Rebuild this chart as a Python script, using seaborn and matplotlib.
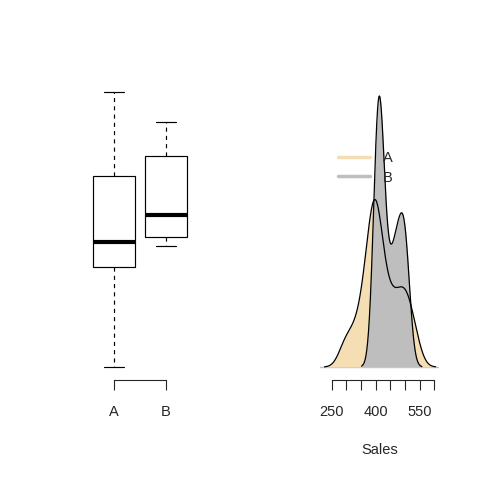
import matplotlib
matplotlib.use("Agg")
import matplotlib.pyplot as plt
from matplotlib.lines import Line2D
import seaborn as sns
import pandas as pd
import numpy as np

GROUPS = ["A", "B"]
SALES_A = [295, 325, 350, 365, 375, 382.3, 389, 395, 399, 402, 404.1,
           410, 419, 433, 447, 461.7, 477, 492, 503, 513, 535]
SALES_B = [400.6, 403, 405, 407, 408, 408.5, 413, 417, 420, 423, 427.7,
           442, 455, 463, 470, 479.2, 486, 493, 499, 504, 508.9]
BW_ADJUST = [0.68, 0.78]
FILL_COLORS = ["#F5DEB3", "#BEBEBE"]
XTICKS = [250, 300, 350, 400, 450, 500, 550, 600]
XTICK_LABELS = ["250", "", "", "400", "", "", "550", ""]

sns.set_style("white")
plt.rcParams["font.family"] = ["Liberation Sans", "DejaVu Sans"]
FS = 10.5

df = pd.DataFrame({
    "product": ["A"] * len(SALES_A) + ["B"] * len(SALES_B),
    "sales": SALES_A + SALES_B,
})

fig = plt.figure(figsize=(4.8, 4.8), dpi=100)
ax1 = fig.add_axes([80 / 480, 100 / 480, 119 / 480, 300 / 480])
ax2 = fig.add_axes([320 / 480, 100 / 480, 119 / 480, 300 / 480])

# ---- left: boxplot
sns.boxplot(data=df, x="product", y="sales", order=GROUPS, ax=ax1,
            width=0.8, color="white", linecolor="black", linewidth=0.85,
            showfliers=False, whis=1.5,
            whiskerprops={"linestyle": (0, (3.5, 3.5))},
            medianprops={"linewidth": 3})
lo, hi = df["sales"].min(), df["sales"].max()
total = (hi - lo) / 0.9167
ax1.set_ylim(lo - 0.0433 * total, lo - 0.0433 * total + total)
ax1.set_xlim(1 - 34 / 52 - 1, 1 + 33 / 52)
ax1.set_xlabel("")
ax1.set_ylabel("")
ax1.set_yticks([])
for s in ["top", "right", "left"]:
    ax1.spines[s].set_visible(False)
ax1.spines["bottom"].set_bounds(0, 1)
ax1.spines["bottom"].set_linewidth(0.8)
ax1.tick_params(axis="x", direction="out", length=7, width=0.8,
                pad=11, labelsize=FS, bottom=True)

# ---- right: densities
for vals, col, bw in zip([SALES_A, SALES_B], FILL_COLORS, BW_ADJUST):
    sns.kdeplot(x=vals, ax=ax2, fill=True, color=col, alpha=1,
                linewidth=0, bw_adjust=bw)
for vals, bw in zip([SALES_A, SALES_B], BW_ADJUST):
    sns.kdeplot(x=vals, ax=ax2, color="black", linewidth=0.9, bw_adjust=bw)
ax2.axhline(0, color="#BEBEBE", linewidth=1, zorder=0)

peak = max(np.max(l.get_ydata()) for l in ax2.lines if len(l.get_ydata()) > 2)
rng = peak / 0.9034
ax2.set_ylim(-0.0433 * rng, -0.0433 * rng + rng)
ax2.set_xlim(210, 616)
ax2.set_xticks(XTICKS)
ax2.set_xticklabels(XTICK_LABELS)
ax2.set_yticks([])
ax2.set_ylabel("")
ax2.set_xlabel("Sales", fontsize=FS, labelpad=17)
for s in ["top", "right", "left"]:
    ax2.spines[s].set_visible(False)
ax2.spines["bottom"].set_bounds(XTICKS[0], XTICKS[-1])
ax2.spines["bottom"].set_linewidth(0.8)
ax2.tick_params(axis="x", direction="out", length=7, width=0.8,
                pad=11, labelsize=FS, bottom=True)

handles = [Line2D([], [], color=c, linewidth=2.5) for c in FILL_COLORS]
ax2.legend(handles, GROUPS, loc="center left", frameon=False,
           bbox_to_anchor=(338 / 480, 1 - 168 / 480),
           bbox_transform=fig.transFigure, borderaxespad=0, borderpad=0,
           handlelength=2.2, handletextpad=0.9, labelspacing=0.35,
           fontsize=FS)

fig.savefig("out.png", dpi=100)
